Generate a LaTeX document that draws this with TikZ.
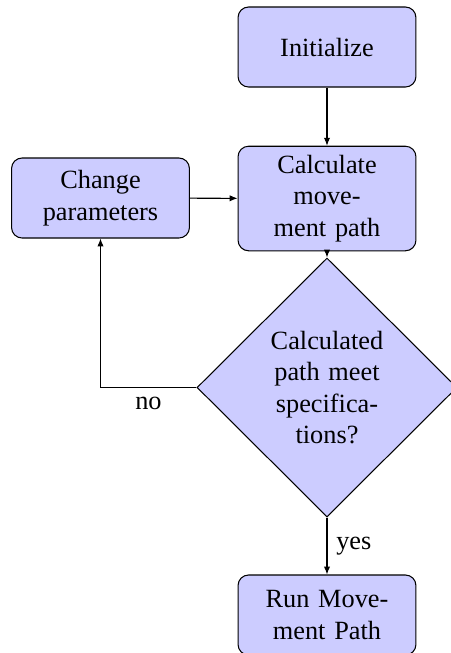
\documentclass[tikz,border=0pt]{standalone}
\usepackage{fontspec}
\setmainfont{Liberation Serif}
\usetikzlibrary{arrows.meta,shapes.geometric}
\hyphenation{specifica-tions move-ment}

\begin{document}
\begin{tikzpicture}[x=0.38pt, y=-0.38pt,
        block/.style={rectangle, draw, fill=blue!20, rounded corners, text width=60.9pt, align=center, minimum width=67.6pt, minimum height=30.4pt},
        decision/.style={diamond, draw, fill=blue!20, text width=4.5em, align=center, inner sep=0pt, minimum width=98.8pt, minimum height=98.4pt},
        line/.style={draw, -{Latex[length=3pt, width=2.4pt]}}]
        \useasboundingbox (0,0) rectangle (451,653);

        \node[block] (init) at (327, 47) {Initialize};
        \node[block] (calc) at (327, 198.5) {Calculate movement path};
        \node[block] (change) at (100.5, 198) {Change parameters};
        \node[decision] (decide) at (327, 387.5) {Calculated path meet specifications?};
        \node[block] (run) at (327, 615) {Run Movement Path};

        \path[line] (init) -- (calc);
        \path[line] (calc) -- (decide);
        \path[line] (change) -- (calc);
        \path[line] (decide) -| node[near start, below] {no} (change);
        \path[line] (decide) -- node[right] {yes} (run);
    \end{tikzpicture}
\end{document}
